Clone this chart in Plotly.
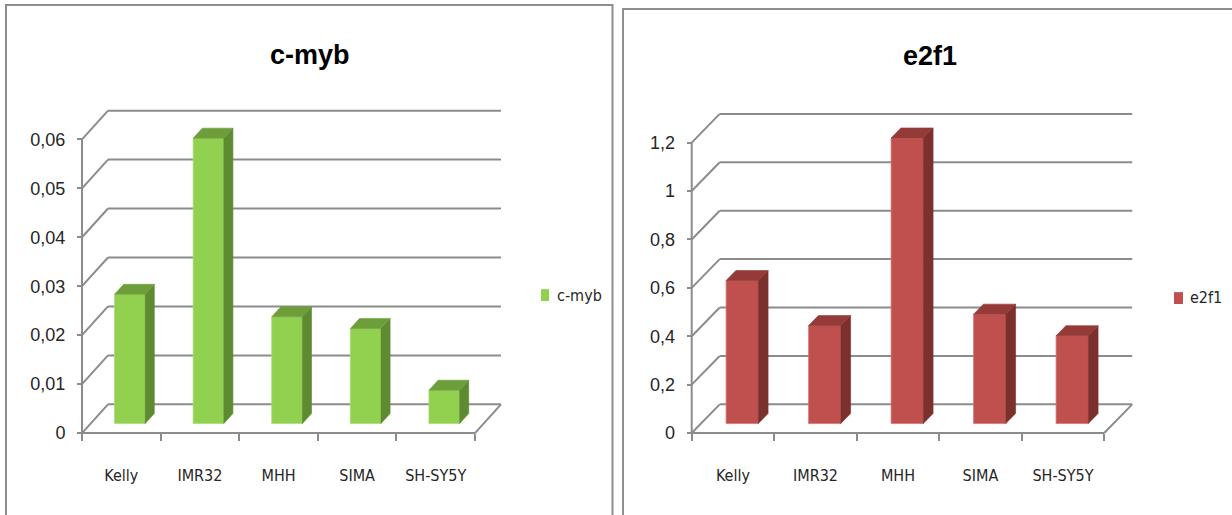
import plotly.graph_objects as go

# ---- data -------------------------------------------------------------
CELL_LINES = ["Kelly", "IMR32", "MHH", "SIMA", "SH-SY5Y"]

CMYB_VALUES = [0.0264, 0.0583, 0.0218, 0.0194, 0.0068]
CMYB_TICKS = [0, 0.01, 0.02, 0.03, 0.04, 0.05, 0.06]
CMYB_TICK_TEXT = ["0", "0,01", "0,02", "0,03", "0,04", "0,05", "0,06"]

E2F1_VALUES = [0.591, 0.405, 1.18, 0.452, 0.363]
E2F1_TICKS = [0, 0.2, 0.4, 0.6, 0.8, 1.0, 1.2]
E2F1_TICK_TEXT = ["0", "0,2", "0,4", "0,6", "0,8", "1", "1,2"]

# ---- page / style -----------------------------------------------------
W, H = 1232, 515
FONT = "Liberation Sans, Arial, sans-serif"
NARROW_FONT = "DejaVu Sans Condensed, Liberation Sans Narrow, Liberation Sans, sans-serif"
TITLE_FONT = "Liberation Sans, Arial, sans-serif"
GRID = "#8c8c8c"
TEXT = "#262626"

BAR_WIDTH = 0.39          # front face width, in category units
BAR_FRONT = 0.33          # depth fraction of the bar's front face
BAR_BACK = 0.68           # depth fraction of the bar's back face

PANELS = [
    dict(name="c-myb", values=CMYB_VALUES, ticks=CMYB_TICKS, tick_text=CMYB_TICK_TEXT,
         xa="x", ya="y", ax_px=82.0, zero_px=437.3, cw=78.6, pu=4943.0, depth=(26.0, 29.0),
         colors=dict(front="#92D050", side="#5E8A31", top="#6E9E3B", edge="#A9DC76"),
         title_xy=(310, 56), legend_box=(541, 292, 549, 304), legend_text=(555, 298),
         frame=(6, 5, 612.5)),
    dict(name="e2f1", values=E2F1_VALUES, ticks=E2F1_TICKS, tick_text=E2F1_TICK_TEXT,
         xa="x2", ya="y2", ax_px=691.7, zero_px=437.3, cw=82.5, pu=244.4, depth=(28.0, 29.0),
         colors=dict(front="#C0504D", side="#7C302E", top="#943A38", edge="#D27573"),
         title_xy=(930, 57), legend_box=(1174, 295, 1183, 307), legend_text=(1188, 300),
         frame=(623, 9, 1240)),
]

fig = go.Figure()
shapes = []
annotations = []
layout_axes = {}

for k, p in enumerate(PANELS):
    n = len(CELL_LINES)
    dx = p["depth"][0] / p["cw"]
    dy = p["depth"][1] / p["pu"]
    top_tick = p["ticks"][-1]

    # axis ranges, padded so edge lines are not clipped
    xr = [-0.5 - 0.12, n - 0.5 + dx + 0.1]
    yr = [-5.0 / p["pu"], top_tick + dy + 6.0 / p["pu"]]
    x_dom = [(p["ax_px"] + (xr[0] + 0.5) * p["cw"]) / W,
             (p["ax_px"] + (xr[1] + 0.5) * p["cw"]) / W]
    y_dom = [1 - (p["zero_px"] - yr[0] * p["pu"]) / H,
             1 - (p["zero_px"] - yr[1] * p["pu"]) / H]

    xkey = "xaxis" if k == 0 else "xaxis2"
    ykey = "yaxis" if k == 0 else "yaxis2"
    layout_axes[xkey] = dict(
        domain=x_dom, range=xr, anchor="free", position=1 - p["zero_px"] / H,
        showgrid=False, zeroline=False, showline=False,
        tickmode="array", tickvals=list(range(n)), ticktext=CELL_LINES,
        ticks="", ticklabelstandoff=31,
        tickfont=dict(family=NARROW_FONT, size=16, color=TEXT),
        minor=dict(tickmode="array", tickvals=[i - 0.5 for i in range(n + 1)],
                   ticks="outside", ticklen=7, tickwidth=1.5, tickcolor=GRID, showgrid=False),
        fixedrange=True,
    )
    layout_axes[ykey] = dict(
        domain=y_dom, range=yr, anchor="free", position=p["ax_px"] / W,
        showgrid=False, zeroline=False, showline=False,
        tickmode="array", tickvals=p["ticks"], ticktext=p["tick_text"],
        ticks="outside", ticklen=5, tickwidth=1.5, tickcolor=GRID,
        ticklabelstandoff=8,
        tickfont=dict(family=FONT, size=18, color=TEXT),
        fixedrange=True,
    )

    # back wall / side wall gridlines
    line = dict(color=GRID, width=2)
    for v in p["ticks"]:
        shapes.append(dict(type="line", xref=p["xa"], yref=p["ya"], layer="below",
                           x0=-0.5, y0=v, x1=-0.5 + dx, y1=v + dy, line=line))
        shapes.append(dict(type="line", xref=p["xa"], yref=p["ya"], layer="below",
                           x0=-0.5 + dx, y0=v + dy, x1=n - 0.5 + dx, y1=v + dy, line=line))
    # floor front and right edges, front vertical axis
    shapes.append(dict(type="line", xref=p["xa"], yref=p["ya"], layer="below",
                       x0=-0.5, y0=0, x1=n - 0.5, y1=0, line=line))
    shapes.append(dict(type="line", xref=p["xa"], yref=p["ya"], layer="below",
                       x0=n - 0.5, y0=0, x1=n - 0.5 + dx, y1=dy, line=line))
    shapes.append(dict(type="line", xref=p["xa"], yref=p["ya"], layer="below",
                       x0=-0.5, y0=0, x1=-0.5, y1=top_tick, line=line))

    # front faces of the bars
    c = p["colors"]
    fx = [i + BAR_FRONT * dx for i in range(n)]
    fig.add_trace(go.Bar(
        x=fx, y=p["values"], base=BAR_FRONT * dy, width=BAR_WIDTH,
        xaxis=p["xa"], yaxis=p["ya"], name=p["name"], showlegend=False,
        marker=dict(color=c["front"], line=dict(color=c["edge"], width=0.8)),
        hoverinfo="skip",
    ))

    # side and top faces (oblique projection)
    ddx = (BAR_BACK - BAR_FRONT) * dx
    ddy = (BAR_BACK - BAR_FRONT) * dy
    side_x, side_y, top_x, top_y = [], [], [], []
    for i, v in enumerate(p["values"]):
        xl = fx[i] - BAR_WIDTH / 2
        xrt = fx[i] + BAR_WIDTH / 2
        yb = BAR_FRONT * dy
        yt = v + BAR_FRONT * dy
        side_x += [xrt, xrt, xrt + ddx, xrt + ddx, xrt, None]
        side_y += [yb, yt, yt + ddy, yb + ddy, yb, None]
        top_x += [xl, xrt, xrt + ddx, xl + ddx, xl, None]
        top_y += [yt, yt, yt + ddy, yt + ddy, yt, None]
    fig.add_trace(go.Scatter(x=side_x, y=side_y, mode="lines", fill="toself",
                             fillcolor=c["side"], line=dict(width=0.6, color=c["side"]),
                             xaxis=p["xa"], yaxis=p["ya"], showlegend=False, hoverinfo="skip"))
    fig.add_trace(go.Scatter(x=top_x, y=top_y, mode="lines", fill="toself",
                             fillcolor=c["top"], line=dict(width=0.6, color=c["top"]),
                             xaxis=p["xa"], yaxis=p["ya"], showlegend=False, hoverinfo="skip"))

    # chart title
    annotations.append(dict(text="<b>%s</b>" % p["name"], xref="paper", yref="paper",
                            x=p["title_xy"][0] / W, y=1 - p["title_xy"][1] / H,
                            xanchor="center", yanchor="middle", showarrow=False,
                            font=dict(family=TITLE_FONT, size=27, color="#000000")))

    # legend key
    lb = p["legend_box"]
    shapes.append(dict(type="rect", xref="paper", yref="paper",
                       x0=lb[0] / W, x1=lb[2] / W, y0=1 - lb[3] / H, y1=1 - lb[1] / H,
                       fillcolor=c["front"], line=dict(width=0)))
    lt = p["legend_text"]
    annotations.append(dict(text=p["name"], xref="paper", yref="paper",
                            x=lt[0] / W, y=1 - lt[1] / H, xanchor="left", yanchor="middle",
                            showarrow=False, font=dict(family=NARROW_FONT, size=16, color=TEXT)))

    # chart frame
    fr = p["frame"]
    shapes.append(dict(type="rect", xref="paper", yref="paper",
                       x0=fr[0] / W, x1=fr[2] / W, y0=-0.05, y1=1 - fr[1] / H,
                       line=dict(color="#8e8e8e", width=2), fillcolor="rgba(0,0,0,0)"))

fig.update_layout(
    width=W, height=H, margin=dict(l=0, r=0, t=0, b=0),
    paper_bgcolor="white", plot_bgcolor="rgba(0,0,0,0)",
    shapes=shapes, annotations=annotations, showlegend=False,
    **layout_axes,
)

fig.write_html("out.html", config=dict(displayModeBar=False))
